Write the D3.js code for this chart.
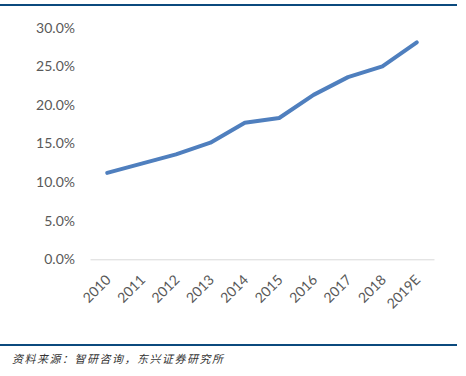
<!DOCTYPE html>
<html>
<head>
<meta charset="utf-8">
<script src="https://cdn.jsdelivr.net/npm/d3@7"></script>
<style>
  body { margin: 0; background: #fff; }
</style>
</head>
<body>
<script>
const years = ["2010", "2011", "2012", "2013", "2014", "2015", "2016", "2017", "2018", "2019E"];
const rates = [11.2, 12.4, 13.6, 15.1, 17.7, 18.3, 21.3, 23.6, 25.0, 28.1];
const yTicks = [0, 5, 10, 15, 20, 25, 30];
const source = "资料来源：智研咨询，东兴证券研究所";

const width = 466;
const height = 376;

const svg = d3
  .select("body")
  .append("svg")
  .attr("width", width)
  .attr("height", height);

// top and bottom rules
svg.append("rect").attr("x", 0).attr("y", 4).attr("width", 457).attr("height", 2).attr("fill", "#0b4a7e");
svg.append("rect").attr("x", 0).attr("y", 344).attr("width", 457).attr("height", 2).attr("fill", "#0b4a7e");

const xScale = d3.scaleBand().domain(years).range([90, 434]);
const yScale = d3.scaleLinear().domain([0, 30]).range([259.3, 27.7]);

const xAxis = d3.axisBottom(xScale).tickSize(0).tickPadding(10);
const yAxis = d3
  .axisLeft(yScale)
  .tickValues(yTicks)
  .tickSize(0)
  .tickPadding(15)
  .tickFormat((d) => d.toFixed(1) + "%");

const font = "Lato, 'Liberation Sans', sans-serif";

const yGroup = svg.append("g").attr("transform", "translate(90 0)").call(yAxis);
yGroup.select(".domain").remove();
yGroup
  .selectAll("text")
  .attr("font-family", font)
  .attr("font-size", 14)
  .attr("fill", "#595959");

const xGroup = svg.append("g").attr("transform", `translate(0 ${yScale(0)})`).call(xAxis);
xGroup.select(".domain").attr("stroke", "#d9d9d9").attr("stroke-width", 1);
xGroup
  .selectAll("text")
  .attr("font-family", font)
  .attr("font-size", 14)
  .attr("fill", "#595959")
  .attr("text-anchor", "end")
  .attr("dy", "0.35em")
  .attr("transform", "translate(-6 11) rotate(-45)");

const line = d3
  .line()
  .x((d, i) => xScale(years[i]) + xScale.bandwidth() / 2)
  .y((d) => yScale(d));

svg
  .append("path")
  .datum(rates)
  .attr("d", line)
  .attr("fill", "none")
  .attr("stroke", "#4f7fbe")
  .attr("stroke-width", 4)
  .attr("stroke-linecap", "round")
  .attr("stroke-linejoin", "round");

svg
  .append("text")
  .attr("x", 12)
  .attr("y", 363)
  .attr("font-family", "'Noto Sans CJK SC', sans-serif")
  .attr("font-size", 11)
  .attr("font-style", "italic")
  .attr("fill", "#333")
  .attr("letter-spacing", 1.5)
  .text(source);
</script>
</body>
</html>
